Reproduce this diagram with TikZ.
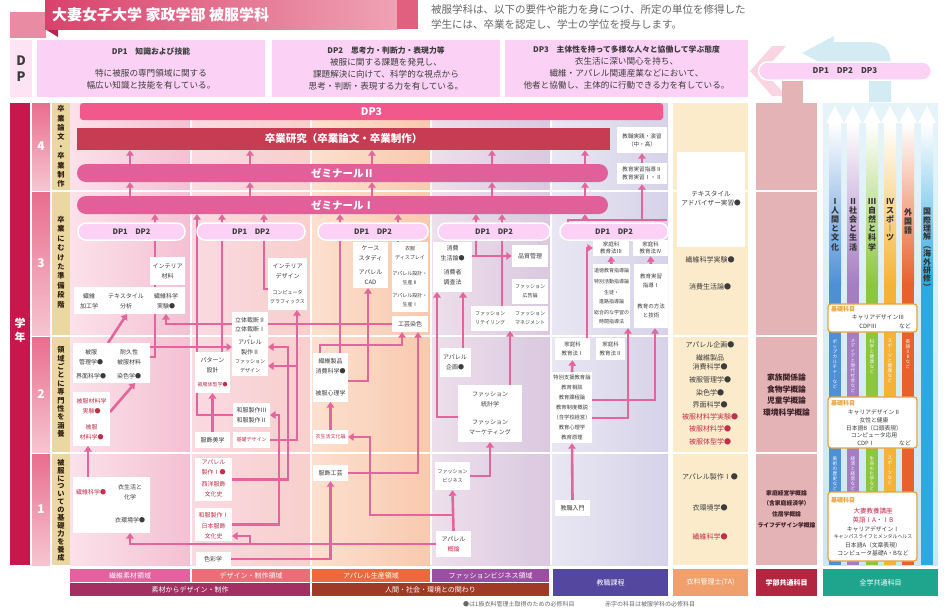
\documentclass[tikz,border=0pt]{standalone}
\usepackage{fontspec}
\setmainfont{Noto Sans CJK JP}
\usetikzlibrary{arrows.meta}
\definecolor{lnk}{HTML}{E2669B}
\definecolor{txt}{HTML}{3C3C3C}
\definecolor{redtxt}{HTML}{C0304A}
\definecolor{ttlA}{HTML}{D9416B}
\definecolor{ttlB}{HTML}{EFA3B4}
\definecolor{ttlC}{HTML}{E2607F}
\definecolor{ttlfold}{HTML}{E98CA3}
\definecolor{ttldark}{HTML}{B32451}
\definecolor{dpbox}{HTML}{FBD2F5}
\definecolor{dplbl}{HTML}{FDE3F3}
\definecolor{dpchev}{HTML}{F9D5E4}
\definecolor{skyarrow}{HTML}{D3ECF4}
\definecolor{crimson}{HTML}{C8174C}
\definecolor{yrA}{HTML}{E96E8E}
\definecolor{yrB}{HTML}{F6C5D1}
\definecolor{stage}{HTML}{EBD7A4}
\definecolor{bardp}{HTML}{F2588B}
\definecolor{barred}{HTML}{C73C52}
\definecolor{barpink}{HTML}{E1609A}
\definecolor{c1a}{HTML}{FBE1EA}
\definecolor{c1b}{HTML}{F3C0D2}
\definecolor{c2a}{HTML}{F9DAE2}
\definecolor{c2b}{HTML}{F8CFCC}
\definecolor{c3a}{HTML}{FCE0CF}
\definecolor{c3b}{HTML}{F8C9AE}
\definecolor{c4a}{HTML}{EEDFEC}
\definecolor{c4b}{HTML}{D9C8DF}
\definecolor{c5a}{HTML}{E9E7F3}
\definecolor{c5b}{HTML}{D6D2E8}
\definecolor{ta}{HTML}{FCEBCB}
\definecolor{gakubu}{HTML}{E3B3B6}
\definecolor{gkink}{HTML}{3A1F25}
\definecolor{skyA}{HTML}{E6F4F9}
\definecolor{skyB}{HTML}{CBE7F3}
\definecolor{ga}{HTML}{4F8FD6}
\definecolor{gb}{HTML}{A67CC3}
\definecolor{gc}{HTML}{8CC63F}
\definecolor{gd}{HTML}{F5B335}
\definecolor{ge}{HTML}{E8602C}
\definecolor{gf}{HTML}{2FA8E0}
\definecolor{kisobd}{HTML}{E6A33E}
\definecolor{labA}{HTML}{E2619E}
\definecolor{labB}{HTML}{EA6E78}
\definecolor{labC}{HTML}{EA6A3E}
\definecolor{labD}{HTML}{9C4FA2}
\definecolor{labE}{HTML}{A42F62}
\definecolor{labF}{HTML}{9E3A26}
\definecolor{labG}{HTML}{5347A0}
\definecolor{labH}{HTML}{F0A06C}
\definecolor{labI}{HTML}{B0273F}
\definecolor{labJ}{HTML}{1FA58E}
\pgfdeclarelayer{back}
\pgfdeclarelayer{lines}
\pgfsetlayers{back,lines,main}
\newcommand\crs{\fontsize{6}{10}\selectfont}
\newcommand\crss{\fontsize{5}{9}\selectfont}
\newcommand\tate[2][1.1em]{\vbox{\baselineskip=#1\lineskiplimit=-\maxdimen\tateloop#2\relax}}
\def\tateloop#1{\ifx\relax#1\else\hbox to 1em{\hss#1\hss}\expandafter\tateloop\fi}
\newcommand\pnl[5]{\node[panel, minimum width={#4-#2}, minimum height={#5-#3}] (#1) at ({(#2+#4)/2},{(#3+#5)/2}) {};}
\tikzset{
  flow/.style={draw=lnk, line width=2.6pt, -{Triangle[width=7.5pt,length=5.5pt]}},
  rail/.style={draw=lnk, line width=2.6pt},
  panel/.style={fill=white, inner sep=0pt, outer sep=0pt},
  course/.style={inner sep=1pt, align=center, text=txt, font=\crs},
  box/.style={course, fill=white},
  must/.style={text=redtxt},
  bar/.style={text=white, inner sep=0pt, font=\bfseries\fontsize{10.5}{12}\selectfont},
  pill/.style={fill=dpbox, draw=white, line width=1.5pt, rounded corners=8pt, minimum height=17, inner sep=0pt, text=txt, font=\bfseries\fontsize{7.5}{9}\selectfont},
  lab/.style={text=white, inner sep=0pt, font=\fontsize{7}{8}\selectfont},
  dptitle/.style={inner sep=0pt, text=txt, font=\bfseries\fontsize{7.8}{10}\selectfont},
  dptext/.style={inner sep=0pt, align=center, text=txt, font=\fontsize{8.6}{12}\selectfont},
  tatext/.style={inner sep=0.5pt, align=center, text=txt, font=\fontsize{7}{9}\selectfont},
  gktext/.style={inner sep=0pt, align=center, text=gkink, font=\bfseries\fontsize{7.8}{11.5}\selectfont},
  gztext/.style={inner sep=0pt, anchor=north, text=black!80, font=\bfseries\fontsize{8}{9}\selectfont},
  bartext/.style={inner sep=0pt, anchor=north, text=white, font=\fontsize{4.6}{5}\selectfont},
  stagetext/.style={inner sep=0pt, text=black!75!brown, font=\bfseries\fontsize{7.2}{8}\selectfont},
  kiso/.style={draw=kisobd, line width=1.3pt, fill=white, rounded corners=3pt, inner sep=0pt},
  kisotext/.style={inner sep=0pt, text=txt, font=\fontsize{5.8}{7}\selectfont},
  kisohead/.style={inner sep=0pt, anchor=west, text=kisobd, font=\bfseries\fontsize{6}{7}\selectfont},
}
\begin{document}
\begin{tikzpicture}[x=1pt,y=-1pt]
\useasboundingbox (0,0) rectangle (949,613);
\begin{pgfonlayer}{back}
\fill[white] (0,0) rectangle (949,613);
\fill[ttlfold] (10,12) rectangle (46,38);
\fill[ttldark] (45,29) -- (58,29) -- (58,37) -- cycle;
\shade[left color=ttlA, right color=ttlB] (45,0) rectangle (398,29);
\fill[ttlC] (397,0) rectangle (418,29);
\fill[dpchev] (772,46) -- (750,71) -- (772,96) -- (786,96) -- (764,71) -- (786,46) -- cycle;
\draw[skyarrow, line width=22pt] (880,102) -- (880,72) .. controls (880,53) .. (858,53) -- (832,53);
\fill[skyarrow] (834,36) -- (802,53) -- (834,70) -- cycle;
\fill[gakubu] (782,78) rectangle (803,103);
\fill[crimson] (10,103) rectangle (30,565);
\foreach \a/\b in {103/190,192/335,337/452,454/565} {
  \shade[top color=yrA, bottom color=yrB] (32,\a) rectangle (50,\b);
  \fill[stage] (52,\a) rectangle (70,\b);
}
\shade[left color=c1a, right color=c1b] (70,103) rectangle (191,565);
\shade[left color=c2a, right color=c2b] (191,103) rectangle (311,565);
\shade[left color=c3a, right color=c3b] (311,103) rectangle (431,565);
\shade[left color=c4a, right color=c4b] (431,103) rectangle (551,565);
\shade[left color=c5a, right color=c5b] (551,103) rectangle (668,565);
\fill[ta] (673,103) rectangle (748,565);
\fill[gakubu] (756,103) rectangle (817,565);
\shade[top color=skyA, bottom color=skyB] (823,103) rectangle (938,565);
\foreach \x/\cl in {835/ga,853/gb,872/gc,890/gd,908/ge,927/gf} {
  \shade[top color=white, bottom color=\cl] (\x-6,123) rectangle (\x+6,285);
  \fill[\cl] (\x-6,284) rectangle (\x+6,565);
  \fill[white] (\x-9,123) -- (\x,106) -- (\x+9,123) -- cycle;
}
\foreach \y in {191,336,453} \draw[white, line width=2pt] (70,\y) -- (817,\y);
\foreach \x in {191,311,431,551} \draw[white, line width=1.2pt] (\x,103) -- (\x,565);
\end{pgfonlayer}

\node[anchor=west, inner sep=0pt, text=white, font=\bfseries\fontsize{15}{18}\selectfont] (title) at (52,15) {大妻女子大学 家政学部 被服学科};
\node[anchor=west, inner sep=0pt, align=left, text=black!60, font=\fontsize{10.5}{15}\selectfont] (intro) at (431,17) {被服学科は、以下の要件や能力を身につけ、所定の単位を修得した\\学生には、卒業を認定し、学士の学位を授与します。};

\node[fill=dplbl, minimum width=22, minimum height=57, inner sep=0pt, align=center, text=txt, font=\bfseries\fontsize{13}{16}\selectfont] (dplab) at (21,68.5) {D\\P};
\node[fill=dpbox, minimum width=228, minimum height=57, inner sep=0pt] (dp1) at (151,68.5) {};
\node[fill=dpbox, minimum width=228, minimum height=57, inner sep=0pt] (dp2) at (386,68.5) {};
\node[fill=dpbox, minimum width=243, minimum height=57, inner sep=0pt] (dp3) at (626.5,68.5) {};
\node[dptitle] at (151,52) {DP1　知識および技能};
\node[dptext] at (151,79.5) {特に被服の専門領域に関する\\幅広い知識と技能を有している。};
\node[dptitle] at (386,51) {DP2　思考力・判断力・表現力等};
\node[dptext] at (386,74) {被服に関する課題を発見し、\\課題解決に向けて、科学的な視点から\\思考・判断・表現する力を有している。};
\node[dptitle] at (626.5,50) {DP3　主体性を持って多様な人々と協働して学ぶ態度};
\node[dptext] at (626.5,73) {衣生活に深い関心を持ち、\\繊維・アパレル関連産業などにおいて、\\他者と協働し、主体的に行動できる力を有している。};
\node[pill, minimum width=173, minimum height=18, rounded corners=9pt, font=\bfseries\fontsize{8}{9}\selectfont] (dpall) at (845,71) {DP1\quad DP2\quad DP3};

\node[inner sep=0pt, text=white, font=\bfseries\fontsize{11}{14}\selectfont] (gakunen) at (20,330) {\tate[14pt]{学年}};
\node[inner sep=0pt, text=white, font=\bfseries\fontsize{12}{14}\selectfont] at (41,146.5) {4};
\node[inner sep=0pt, text=white, font=\bfseries\fontsize{12}{14}\selectfont] at (41,263.5) {3};
\node[inner sep=0pt, text=white, font=\bfseries\fontsize{12}{14}\selectfont] at (41,394.5) {2};
\node[inner sep=0pt, text=white, font=\bfseries\fontsize{12}{14}\selectfont] at (41,509.5) {1};
\node[stagetext] at (61,146.5) {\tate[9.4pt]{卒業論文・卒業制作}};
\node[stagetext] at (61,262) {\tate[9.4pt]{卒業にむけた準備段階}};
\node[stagetext] at (61,392) {\tate[8.4pt]{領域ごとに専門性を涵養}};
\node[stagetext] at (61,510) {\tate[7.9pt]{被服についての基礎力を養成}};

\node[bar, fill=bardp, rounded corners=3pt, minimum width=583, minimum height=17] (dp3bar) at (371.5,111.5) {DP3};
\node[bar, fill=barred, minimum width=533, minimum height=22] (sotsu) at (343.5,139) {卒業研究（卒業論文・卒業制作）};
\node[box, minimum width=50, minimum height=26, font=\fontsize{5.6}{8}\selectfont] (kyoshoku) at (642,140) {教職実践・演習\\（中・高）};
\node[bar, fill=barpink, rounded corners=9pt, minimum width=531, minimum height=18] (zemi2) at (342.5,173) {ゼミナールⅡ};
\node[box, minimum width=50, minimum height=21, font=\fontsize{5.6}{8}\selectfont] (jisshu) at (642,173.5) {教育実習指導Ⅱ\\教育実習Ⅰ・Ⅱ};
\node[bar, fill=barpink, rounded corners=9pt, minimum width=531, minimum height=18] (zemi1) at (342.5,205) {ゼミナールⅠ};
\foreach \n/\a/\b in {p1/78/185,p2/197/305,p3/318/428,p4/438/550,p5/560/668}
  \node[pill, minimum width={\b-\a}] (\n) at ({(\a+\b)/2},231.5) {DP1\quad DP2};

\pnl{intmat}{150}{257}{185}{285}
\node[course] at (167.5,271) {インテリア\\材料};
\pnl{r3a}{74}{287}{185}{314}
\node[course] (kako) at (89,301) {繊維\\加工学};
\node[course] (texan) at (126,301) {テキスタイル\\分析};
\node[course] (senijik) at (166,301) {繊維科学\\実験●};
\pnl{kanribox}{73}{343}{150}{383}
\node[course] (kanri) at (91,357) {被服\\管理学●};
\node[course] (taikyu) at (129,357) {耐久性\\被服材料};
\node[course] (kaimen) at (91,376) {界面科学●};
\node[course] (senshoku) at (129,376) {染色学●};
\pnl{zairyobox}{73}{392}{110}{446}
\node[course, must] at (91.5,406) {被服材料学\\実験●};
\node[course, must] at (91.5,432) {被服\\材料学●};
\pnl{kisobox}{73}{477}{150}{533}
\node[course, must] at (91,492) {繊維科学●};
\node[course] at (130,492) {衣生活と\\化学};
\node[course] at (130,520) {衣環境学●};

\pnl{intbox}{268}{258}{307}{310}
\node[course] at (287.5,271) {インテリア\\デザイン};
\node[course, font=\crss] at (287.5,297) {コンピュータ\\グラフィックス};
\pnl{rittaibox}{232}{312}{268}{376}
\node[course] at (250,320) {立体裁断Ⅱ};
\node[course] at (250,329) {立体裁断Ⅰ};
\node[course, font=\fontsize{4}{4}\selectfont] at (250,336) {↓};
\node[course] (apparel2) at (250,347) {アパレル\\製作Ⅱ};
\node[course, font=\crss] (fdesign) at (250,366) {ファッション\\デザイン};
\pnl{patbox}{195}{352}{230}{393}
\node[course] at (212.5,365) {パターン\\設計};
\node[course, must, font=\crss] at (212.5,385) {被服体型学●};
\pnl{wafukubox}{233}{403}{270}{427}
\node[course] at (251.5,410) {和服製作Ⅲ};
\node[course] at (251.5,420) {和服製作Ⅱ};
\node[box, minimum width=35, minimum height=16] (bigaku) at (212.5,440) {服飾美学};
\node[box, must, minimum width=37, minimum height=16, font=\crss] (kisode) at (251.5,440) {基礎デザイン};
\pnl{apbox}{195}{458}{232}{501}
\node[course, must] at (213.5,467) {アパレル\\製作Ⅰ●};
\node[course, must] at (213.5,489) {西洋服飾\\文化史};
\pnl{wabox}{195}{508}{232}{541}
\node[course, must] at (213.5,515) {和服製作Ⅰ};
\node[course, must] at (213.5,531) {日本服飾\\文化史};
\node[box, minimum width=35, minimum height=14] (shikisai) at (213,559) {色彩学};

\pnl{casebox}{353}{242}{388}{288}
\node[course] at (370.5,253) {ケース\\スタディ};
\node[course] at (370.5,277) {アパレル\\CAD};
\pnl{dispbox}{392}{242}{428}{312}
\node[course, font=\crss] at (410,253) {衣服\\ディスプレイ};
\node[course, font=\crss] at (410,278) {アパレル設計・\\生産Ⅱ};
\node[course, font=\crss] at (410,300) {アパレル設計・\\生産Ⅰ};
\node[box, minimum width=36, minimum height=16] (kogei) at (410,324) {工芸染色};
\pnl{shohinbox}{313}{353}{348}{402}
\node[course] at (330.5,366) {繊維製品\\消費科学●};
\node[course] at (330.5,393) {被服心理学};
\node[box, must, minimum width=35, minimum height=14, font=\crss] (ishoku) at (330.5,437) {衣生活文化論};
\node[box, minimum width=35, minimum height=16] (kogeiF) at (330.5,473) {服飾工芸};

\pnl{shohibox}{433}{242}{472}{292}
\node[course] at (452.5,253) {消費\\生活論●};
\node[course] at (452.5,277) {消費者\\調査法};
\node[box, minimum width=36, minimum height=22] (hinshitsu) at (530,256) {品質管理};
\node[box, minimum width=36, minimum height=25, font=\crss] (koukoku) at (530,291) {ファッション\\広告論};
\pnl{retailbox}{471}{306}{548}{331}
\node[course, font=\crss] at (490,318) {ファッション\\リテイリング};
\node[course, font=\crss] at (530,318) {ファッション\\マネジメント};
\node[box, minimum width=31, minimum height=29] (kikaku) at (455,362.5) {アパレル\\企画●};
\pnl{mktbox}{458}{385}{522}{442}
\node[course] at (490,399) {ファッション\\統計学};
\node[course] at (490,427) {ファッション\\マーケティング};
\node[box, minimum width=35, minimum height=28, font=\crss] (fbiz) at (452.5,476) {ファッション\\ビジネス};
\node[box, minimum width=35, minimum height=26] (gairon) at (453.5,544) {アパレル\\\textcolor{redtxt}{概論}};

\node[box, minimum width=36, minimum height=16, font=\fontsize{5.5}{7}\selectfont] (k3) at (611,248) {家庭科\\教育法Ⅲ};
\node[box, minimum width=35, minimum height=16, font=\fontsize{5.5}{7}\selectfont] (k4) at (650.5,248) {家庭科\\教育法Ⅳ};
\node[box, minimum width=37, minimum height=64, font=\fontsize{5}{9}\selectfont] (dotoku) at (611.5,296) {道徳教育指導論\\[2pt]特別活動指導論\\[2pt]生徒・\\進路指導論\\[2pt]総合的な学習の\\時間指導法};
\node[box, minimum width=34, minimum height=64, font=\fontsize{5.5}{9}\selectfont] (jishu1) at (651,296) {教育実習\\指導Ⅰ\\[12pt]教育の方法\\と技術};
\node[box, minimum width=35, minimum height=22, font=\fontsize{5.5}{8.5}\selectfont] (kt1) at (572.5,349) {家庭科\\教育法Ⅰ};
\node[box, minimum width=29, minimum height=22, font=\fontsize{5.5}{8.5}\selectfont] (kt2) at (610.5,349) {家庭科\\教育法Ⅱ};
\node[box, minimum width=36, minimum height=71, font=\fontsize{5.3}{10.1}\selectfont] (kyoiku) at (572,407.5) {特別支援教育論\\教育相談\\教育課程論\\教育制度概説\\（含学校経営）\\教育心理学\\教育原理};
\node[box, minimum width=35, minimum height=16] (nyumon) at (572.5,508) {教職入門};

\pnl{tabox}{677}{152}{745}{247}
\node[course, font=\fontsize{6.6}{9}\selectfont] at (711,199) {テキスタイル\\アドバイザー実習●};
\node[tatext] at (710,260) {繊維科学実験●};
\node[tatext] at (710,287) {消費生活論●};
\node[tatext] at (710,345) {アパレル企画●};
\node[tatext] at (710,362) {繊維製品\\消費科学●};
\node[tatext] at (710,380) {被服管理学●};
\node[tatext] at (710,393) {染色学●};
\node[tatext] at (710,405) {界面科学●};
\node[tatext, must] at (710,417) {被服材料学実験●};
\node[tatext, must] at (710,429) {被服材料学●};
\node[tatext, must] at (710,442) {被服体型学●};
\node[tatext] at (710,477) {アパレル製作Ⅰ●};
\node[tatext] at (710,508) {衣環境学●};
\node[tatext, must] at (710,537) {繊維科学●};

\node[gktext] at (786.5,395) {家族関係論\\食物学概論\\児童学概論\\環境科学概論};
\node[gktext, font=\bfseries\fontsize{5.8}{10.7}\selectfont] at (786.5,509) {家庭経営学概論\\（含家庭経済学）\\住居学概論\\ライフデザイン学概論};

\node[gztext] at (835,198) {\tate[9.2pt]{Ⅰ人間と文化}};
\node[gztext] at (853,198) {\tate[9.2pt]{Ⅱ社会と生活}};
\node[gztext] at (872,198) {\tate[9.2pt]{Ⅲ自然と科学}};
\node[gztext] at (890,198) {\tate[9.2pt]{Ⅳスポ︱ツ}};
\node[gztext] at (908,208) {\tate[9.2pt]{外国語}};
\node[gztext] at (927,208) {\tate[8.4pt]{国際理解︵海外研修︶}};
\node[bartext] at (835,339) {\tate[5pt]{ポップカルチャ︱など}};
\node[bartext] at (853,339) {\tate[5pt]{メディアと現代社会など}};
\node[bartext] at (872,339) {\tate[5pt]{科学と健康など}};
\node[bartext] at (890,339) {\tate[5pt]{スポ︱ツと健康など}};
\node[bartext] at (908,339) {\tate[5pt]{英語ⅡBなど}};
\node[bartext] at (835,456) {\tate[5pt]{美術の歴史など}};
\node[bartext] at (853,456) {\tate[5pt]{経済と経営など}};
\node[bartext] at (872,456) {\tate[5pt]{生命の化学など}};
\node[bartext] at (890,456) {\tate[5pt]{スポ︱ツなど}};

\node[kiso, minimum width=89, minimum height=28] (kisoA) at (872.5,318) {};
\node[kisohead] at (831,309) {基礎科目};
\node[kisotext] at (878,317) {キャリアデザインⅢ};
\node[kisotext] at (868,326) {CDPⅢ};
\node[kisotext] at (905,326) {など};
\node[kiso, minimum width=89, minimum height=51] (kisoB) at (872.5,422.5) {};
\node[kisohead] at (831,403) {基礎科目};
\node[kisotext] at (874,412) {キャリアデザインⅡ};
\node[kisotext] at (874,420) {女性と健康};
\node[kisotext] at (874,428) {日本語B（口頭表現）};
\node[kisotext] at (874,435.5) {コンピュータ応用};
\node[kisotext] at (866,443) {CDPⅠ};
\node[kisotext] at (905,443) {など};
\node[kiso, minimum width=89, minimum height=69] (kisoC) at (872.5,526.5) {};
\node[kisohead] at (831,500) {基礎科目};
\node[kisotext, must, font=\fontsize{6.5}{7}\selectfont] at (873,511) {大妻教養講座};
\node[kisotext, must, font=\fontsize{6.5}{7}\selectfont] at (873,520) {英語ⅠA・ⅠB};
\node[kisotext] at (873,529) {キャリアデザインⅠ};
\node[kisotext, font=\fontsize{4.9}{6}\selectfont] at (873,537) {キャンパスライフとメンタルヘルス};
\node[kisotext] at (873,545) {日本語A（文章表現）};
\node[kisotext] at (873,553) {コンピュータ基礎A・Bなど};

\node[lab, fill=labA, minimum width=120, minimum height=13] (labsen) at (130,575.5) {繊維素材領域};
\node[lab, fill=labB, minimum width=118, minimum height=13] (labdes) at (251,575.5) {デザイン・制作領域};
\node[lab, fill=labC, minimum width=118, minimum height=13] (labapp) at (371,575.5) {アパレル生産領域};
\node[lab, fill=labD, minimum width=117, minimum height=13] (labfb) at (490.5,575.5) {ファッションビジネス領域};
\node[lab, fill=labE, minimum width=240, minimum height=13] (labsozai) at (190,589.5) {素材からデザイン・制作};
\node[lab, fill=labF, minimum width=237, minimum height=13] (labningen) at (430.5,589.5) {人間・社会・環境との関わり};
\node[lab, fill=labG, minimum width=115, minimum height=27] (labkyo) at (610.5,582.5) {教職課程};
\node[lab, fill=labH, minimum width=75, minimum height=27] (labta) at (710.5,582.5) {衣料管理士(TA)};
\node[lab, fill=labI, minimum width=61, minimum height=27, font=\bfseries\fontsize{7}{8}\selectfont] (labgb) at (786.5,582.5) {学部共通科目};
\node[lab, fill=labJ, minimum width=115, minimum height=27] (labzg) at (880.5,582.5) {全学共通科目};
\node[anchor=west, inner sep=0pt, text=black!60, font=\fontsize{6}{7}\selectfont] (note1) at (463,604) {●は1級衣料管理士取得のための必修科目};
\node[anchor=west, inner sep=0pt, text=black!60, font=\fontsize{6}{7}\selectfont] (note2) at (605,604) {赤字の科目は被服学科の必修科目};

\begin{pgfonlayer}{lines}
\foreach \x in {130,250,372,492,585} {
  \draw[flow] (zemi2.north -| \x,0) -- (sotsu.south -| \x,0);
  \draw[flow] (zemi1.north -| \x,0) -- (zemi2.south -| \x,0);
}
\draw[flow] (jisshu.north) -- (kyoshoku.south);
\coordinate (tbus) at (568,220);
\draw[rail] (tbus |- p5.north) -- (tbus) -- (tbus -| jisshu.east);
\draw[flow] (tbus -| jisshu) -- (jisshu.south);
\draw[flow] (tbus -| 585,0) -- (zemi1.south -| 585,0);
\draw[flow] (kanribox.east |- taikyu) -| (zemi1.south -| 155,0);
\draw[flow] (wafukubox.west) -| (zemi1.south -| 197,0);
\draw[flow] (patbox.north -| 222,0) -- (zemi1.south -| 222,0);
\draw[flow] (intbox.west |- 0,289) -| (zemi1.south -| 264,0);
\draw[flow] (shohinbox.north -| 340,0) -- (zemi1.south -| 340,0);
\draw[flow] (dispbox.north -| 398,0) -- (zemi1.south -| 398,0);
\draw[flow] (hinshitsu.west -| 476,0) -- (zemi1.south -| 476,0);
\draw[flow] (retailbox.north -| 502,0) -- (zemi1.south -| 502,0);
\draw[flow] (shohibox.east |- hinshitsu) -- (hinshitsu.west);
\draw[flow] (kisobox.north -| 88,0) -- (zairyobox.south -| 88,0);
\draw[flow] (zairyobox.east |- 0,412) -- (kanribox.south -| 135,0);
\draw[flow] (kanribox.north -| 108,0) -- (r3a.south -| 127,0);
\draw[flow] (kogei.west) -| (r3a.south -| senijik);
\draw[flow] (kanribox.east |- 0,347) -- (rittaibox.west |- 0,347);
\draw[flow] (bigaku.north) -- (patbox.south);
\coordinate (busA) at (288,0);
\coordinate (busB) at (297,0);
\coordinate (busC) at (279,0);
\coordinate (busD) at (370,0);
\draw[flow] (apbox.east) -- (apbox.east -| busA) |- (rittaibox.east |- apparel2);
\draw[flow] (kisode.east) -| (intbox.south -| busB);
\draw[flow] (busB |- fdesign) -- (rittaibox.east |- fdesign);
\draw[flow] (wabox.east) -- (wabox.east -| busC) |- (wafukubox.east);
\draw[flow] (shikisai.east) -| (kogeiF.south);
\draw[flow] (ishoku.north) -- (shohinbox.south);
\draw[flow] (shohinbox.east |- 0,381) -| (casebox.south -| 368,0);
\draw[flow] (kogeiF.east) -| (kogei.south -| 418,0);
\draw[flow] (shohinbox.north -| 320,0) -- ++(0,-8) -| (kogei.south -| 402,0);
\draw[flow] (gairon.north |- 0,515) -| (busD |- ishoku) -- (ishoku.east);
\draw[flow] (gairon.west) -| (kisobox.south -| 130,0);
\draw[flow] (gairon.west -| 250,0) |- (wabox.east |- 0,536);
\draw[flow] (gairon.north) -- (fbiz.south);
\draw[flow] (fbiz.east) -| (mktbox.south -| 490,0);
\draw[flow] (mktbox.north -| 510,0) -- (retailbox.south -| 510,0);
\draw[flow] (mktbox.west |- 0,417) -| (shohibox.south -| 437,0);
\draw[flow] (kikaku.north -| 463,0) -- (shohibox.south -| 463,0);
\draw[flow] (nyumon.north) -- (kyoiku.south);
\draw[flow] (kyoiku.north) -- (kt1.south);
\draw[flow] (kyoiku.east |- 0,400) -| (jishu1.south -| 655,0);
\draw[flow] (kyoiku.east |- 0,418) -| (dotoku.south -| 628,0);
\draw[flow] (kt1.north -| 587,0) |- (k3.west);
\draw[flow] (dotoku.north) -- (k3.south);
\draw[flow] (jishu1.north) -- (k4.south);
\end{pgfonlayer}
\end{tikzpicture}
\end{document}
